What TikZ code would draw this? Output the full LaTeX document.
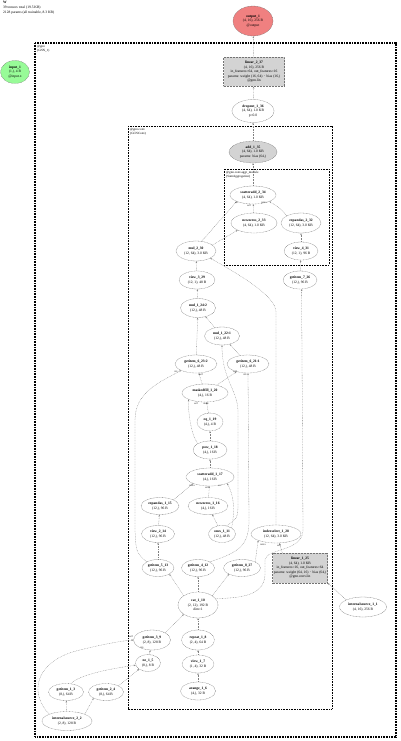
\documentclass[tikz,border=0pt]{standalone}
\usepackage{fontspec}
\setmainfont{Liberation Serif}
\usetikzlibrary{shapes.geometric,arrows.meta}
\definecolor{outred}{RGB}{240,128,128}
\definecolor{ingreen}{RGB}{152,251,152}
\definecolor{parmgray}{RGB}{211,211,211}
\begin{document}
\begin{tikzpicture}[x=1pt,y=-1pt,
 fn/.style={ellipse,draw=black!55,dash pattern=on 0.9pt off 0.6pt,line width=0.3pt,inner sep=0pt,align=center,font=\fontsize{3.6}{4.5}\selectfont},
 lbox/.style={rectangle,draw=black!55,dash pattern=on 0.9pt off 0.6pt,line width=0.3pt,fill=parmgray,inner sep=0pt,align=center,font=\fontsize{3.6}{4.5}\selectfont},
 conn/.style={draw=black!50,line width=0.3pt,dash pattern=on 0.8pt off 0.8pt,-{Stealth[length=1.9pt,width=1.5pt]}},
 lab/.style={font=\fontsize{2.6}{3}\selectfont,inner sep=0pt,text=black!80},
 mbox/.style={draw=black,dash pattern=on 1pt off 0.6pt},
 mlab/.style={font=\fontsize{3.2}{3.9}\selectfont,inner sep=0pt,anchor=north west,align=left},
]
\useasboundingbox (0,0) rectangle (400,741);

% header
\node[anchor=north west,inner sep=0pt,align=left,font=\fontsize{3.6}{5.2}\selectfont] (hdr) at (3,1)
 {\textbf{W}\\39 tensors total (19.5 KB)\\2128 params (all trainable, 8.3 KB)};

% module boxes
\draw[mbox,line width=1.2pt] (35,43) rectangle (396,737);
\node[mlab] (gnnlab) at (37,45) {@gnn\\(GNN\_1)};
\draw[mbox,line width=0.9pt] (128,126) rectangle (332,709);
\node[mlab] (convlab) at (130,128) {@gnn.conv\\(GCNConv)};
\draw[mbox,line width=0.7pt] (224,169) rectangle (329,265);
\node[mlab] (aggrlab) at (226,171) {@gnn.conv.aggr\_module\\(SumAggregation)};

% nodes
\node[fn,fill=outred,minimum width=40,minimum height=30] (out) at (253,21) {\textbf{output\_1}\\(4, 16), 256 B\\@output};
\node[fn,fill=ingreen,minimum width=29,minimum height=23] (inp) at (15,72) {\textbf{input\_1}\\(1,), 4 B\\@input.x};
\node[lbox,minimum width=61,minimum height=29] (lin2) at (254,72) {\textbf{linear\_2\_37}\\(4, 16), 256 B\\in\_features=64, out\_features=16\\params: weight (16, 64) $\cdot$ bias (16,)\\@gnn.lin};
\node[fn,minimum width=42,minimum height=23] (drop) at (253,111) {\textbf{dropout\_1\_36}\\(4, 64), 1.0 KB\\p=0.0};
\node[fn,fill=parmgray,minimum width=48,minimum height=22] (add) at (253,152) {\textbf{add\_1\_35}\\(4, 64), 1.0 KB\\params: bias (64,)};
\node[fn,minimum width=46,minimum height=18] (sa2) at (253,195) {\textbf{scatteradd\_2\_34}\\(4, 64), 1.0 KB};
\node[fn,minimum width=46,minimum height=20] (nz2) at (254,223) {\textbf{newzeros\_2\_33}\\(4, 64), 1.0 KB};
\node[fn,minimum width=40,minimum height=20] (ea2) at (301,223) {\textbf{expandas\_2\_32}\\(12, 64), 3.0 KB};
\node[fn,minimum width=34,minimum height=18] (v431) at (301,251) {\textbf{view\_4\_31}\\(12, 1), 96 B};
\node[fn,minimum width=40,minimum height=20] (mul2) at (196,251) {\textbf{mul\_2\_30}\\(12, 64), 3.0 KB};
\node[fn,minimum width=36,minimum height=18] (v329) at (197,280) {\textbf{view\_3\_29}\\(12, 1), 48 B};
\node[fn,minimum width=34,minimum height=18] (gi726) at (300,280) {\textbf{getitem\_7\_26}\\(12,), 96 B};
\node[fn,minimum width=35,minimum height=19] (m242) at (198,308) {\textbf{mul\_1\_24:2}\\(12,), 48 B};
\node[fn,minimum width=35,minimum height=18] (m221) at (222,336) {\textbf{mul\_1\_22:1}\\(12,), 48 B};
\node[fn,minimum width=42,minimum height=18] (gi623) at (196,364) {\textbf{getitem\_6\_23:2}\\(12,), 48 B};
\node[fn,minimum width=42,minimum height=18] (gi621) at (248,364) {\textbf{getitem\_6\_21:1}\\(12,), 48 B};
\node[fn,minimum width=46,minimum height=18] (mf) at (205,393) {\textbf{maskedfill\_1\_20}\\(4,), 16 B};
\node[fn,minimum width=26,minimum height=18] (eq) at (210,422) {\textbf{eq\_1\_19}\\(4,), 4 B};
\node[fn,minimum width=34,minimum height=18] (pow) at (210,450) {\textbf{pow\_1\_18}\\(4,), 16 B};
\node[fn,minimum width=48,minimum height=18] (sa1) at (210,477) {\textbf{scatteradd\_1\_17}\\(4,), 16 B};
\node[fn,minimum width=38,minimum height=17] (ea1) at (160,506) {\textbf{expandas\_1\_15}\\(12,), 96 B};
\node[fn,minimum width=40,minimum height=17] (nz1) at (208,506) {\textbf{newzeros\_1\_16}\\(4,), 16 B};
\node[fn,minimum width=33,minimum height=17] (v214) at (158,534) {\textbf{view\_2\_14}\\(12,), 96 B};
\node[fn,minimum width=27,minimum height=17] (ones) at (222,534) {\textbf{ones\_1\_11}\\(12,), 48 B};
\node[fn,minimum width=50,minimum height=18] (is128) at (276,534) {\textbf{indexselect\_1\_28}\\(12, 64), 3.0 KB};
\node[lbox,minimum width=55,minimum height=30] (lin1) at (300,568) {\textbf{linear\_1\_25}\\(4, 64), 1.0 KB\\in\_features=16, out\_features=64\\params: weight (64, 16) $\cdot$ bias (64,)\\@gnn.conv.lin};
\node[fn,minimum width=32,minimum height=17] (gi513) at (158,568) {\textbf{getitem\_5\_13}\\(12,), 96 B};
\node[fn,minimum width=33,minimum height=17] (gi412) at (198,568) {\textbf{getitem\_4\_12}\\(12,), 96 B};
\node[fn,minimum width=37,minimum height=17] (gi827) at (242,568) {\textbf{getitem\_8\_27}\\(12,), 96 B};
\node[fn,minimum width=40,minimum height=26] (cat) at (198,605) {\textbf{cat\_1\_10}\\(2, 12), 192 B\\dim=1};
\node[fn,minimum width=47,minimum height=20] (is11) at (363,607) {\textbf{internalsource\_1\_1}\\(4, 16), 256 B};
\node[fn,minimum width=37,minimum height=20] (gi39) at (152,640) {\textbf{getitem\_3\_9}\\(2, 8), 128 B};
\node[fn,minimum width=33,minimum height=20] (rep) at (198,640) {\textbf{repeat\_1\_8}\\(2, 4), 64 B};
\node[fn,minimum width=25,minimum height=17] (ne) at (148,663) {\textbf{ne\_1\_5}\\(8,), 8 B};
\node[fn,minimum width=32,minimum height=18] (v17) at (198,664) {\textbf{view\_1\_7}\\(1, 4), 32 B};
\node[fn,minimum width=35,minimum height=18] (ar) at (198,691) {\textbf{arange\_1\_6}\\(4,), 32 B};
\node[fn,minimum width=35,minimum height=17] (gi13) at (66,692) {\textbf{getitem\_1\_3}\\(8,), 64 B};
\node[fn,minimum width=35,minimum height=17] (gi24) at (106,692) {\textbf{getitem\_2\_4}\\(8,), 64 B};
\node[fn,minimum width=50,minimum height=19] (is22) at (67,721) {\textbf{internalsource\_2\_2}\\(2, 8), 128 B};

% connectors
\draw[conn] (lin2) -- (out);
\draw[conn] (drop) -- (lin2);
\draw[conn] (add) -- (drop);
\draw[conn] (sa2) -- (add);
\draw[conn] (nz2) -- (sa2);
\draw[conn] (ea2.north west) .. controls (280,208) .. (sa2.south east);
\draw[conn] (mul2.60) -- (sa2.south west);
\draw[conn] (mul2.20) -- (nz2.south west);
\draw[conn] (v431) -- (ea2);
\draw[conn] (gi726) -- (v431);
\draw[conn] (v329) -- (mul2);
\draw[conn] (is128.north) -- (276,312) .. controls (276,296) and (240,275) .. (mul2.south east);
\draw[conn] (m242) -- (v329);
\draw[conn] (gi623) -- (m242);
\draw[conn] (m221) -- (m242);
\draw[conn] (gi621) -- (m221);
\draw[conn] (ones.60) .. controls (238,518) .. (238,500) -- (238,412) .. controls (238,390) and (222,380) .. (m221.south);
\draw[conn] (gi513.north west) .. controls (136,552) .. (135,530) -- (135,420) .. controls (135,392) and (160,382) .. (gi623.south west);
\draw[conn] (mf) -- (gi623);
\draw[conn] (mf) -- (gi621);
\draw[conn] (gi412.north east) .. controls (240,552) and (249,545) .. (249,520) -- (gi621.south);
\draw[conn] (pow.north west) .. controls (191,435) and (188,412) .. (mf.south west);
\draw[conn] (eq) -- (mf);
\draw[conn] (pow) -- (eq);
\draw[conn] (sa1) -- (pow);
\draw[conn] (ea1.north east) -- (sa1.south west);
\draw[conn] (nz1) -- (sa1);
\draw[conn] (ones.north east) .. controls (236,505) and (232,492) .. (sa1.south east);
\draw[conn] (ones) -- (nz1);
\draw[conn] (v214) -- (ea1);
\draw[conn] (gi513) -- (v214);
\draw[conn] (cat.north west) -- (gi513.south east);
\draw[conn] (cat) -- (gi412);
\draw[conn] (cat.north east) -- (gi827.south west);
\draw[conn] (cat.20) .. controls (240,598) and (264,596) .. (265,575) -- (265,560) .. controls (266,548) and (303,552) .. (303,530) -- (gi726.-80);
\draw[conn] (gi827.north east) -- (is128.south west);
\draw[conn] ([xshift=10pt]lin1.north west) -- (is128.-70);
\draw[conn] (is11.north west) -- (lin1.south east);
\draw[conn] (gi39.north east) -- (cat.south west);
\draw[conn] (rep) -- (cat);
\draw[conn] (v17) -- (rep);
\draw[conn] (ar) -- (v17);
\draw[conn] (ne) -- (gi39);
\draw[conn] (gi24.north east) -- (ne.south west);
\draw[conn] (gi13.60) .. controls (80,674) and (115,668) .. (ne.190);
\draw[conn] (is22) -- (gi13);
\draw[conn] (is22.north east) -- (gi24.south west);
\draw[conn] (is22.north west) .. controls (28,692) and (36,660) .. (80,650) .. controls (100,645) and (120,641) .. (gi39.west);

% connector labels
\node[lab] (l1) at (237,203) {src};
\node[lab] (l2) at (249,206) {self};
\node[lab] (l3) at (264,203) {index};
\node[lab] (l4) at (192,486) {index};
\node[lab] (l5) at (207,488) {self};
\node[lab] (l6) at (220,486) {src};
\node[lab] (l7) at (196,404) {self};
\node[lab] (l8) at (206,404) {mask};
\node[lab] (l9) at (176,372) {idx};
\node[lab] (l10) at (201,375) {self};
\node[lab] (l11) at (235,372) {self};
\node[lab] (l12) at (245,375) {idx};
\node[lab] (l13) at (263,545) {index};
\node[lab] (l14) at (279,546) {self};
\node[lab] (l15) at (131,637) {self};
\node[lab] (l16) at (142,648) {idx};
\end{tikzpicture}
\end{document}
